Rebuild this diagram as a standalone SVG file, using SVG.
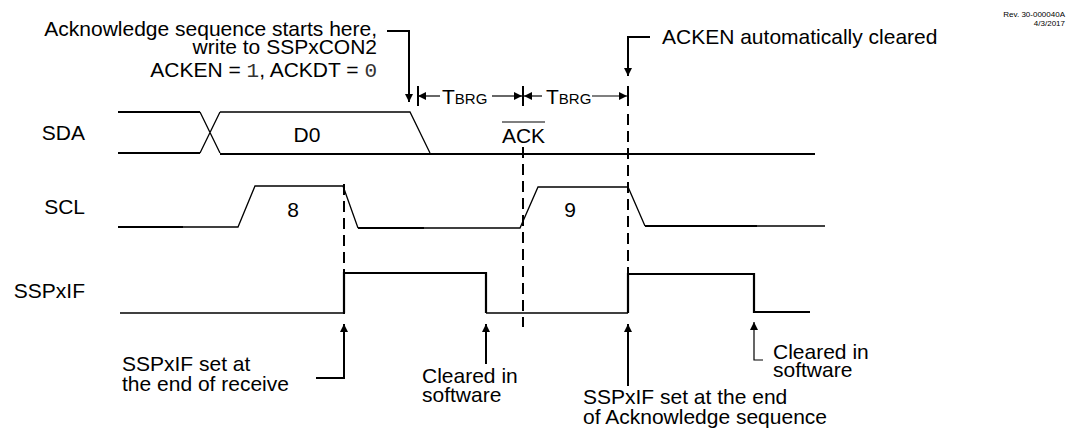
<svg xmlns="http://www.w3.org/2000/svg" width="1084" height="431" viewBox="0 0 1084 431">
<style>
text{font-family:"Liberation Sans",Arial,sans-serif;font-size:21px;fill:#000}
.mono{font-family:"Liberation Mono","Courier New",monospace;fill:#333}
.small{font-size:15px}
.rev{font-size:8px}
.w{fill:none;stroke:#000;stroke-width:1.3}
.t{fill:none;stroke:#000;stroke-width:2.2}
.d{fill:none;stroke:#000;stroke-width:2;stroke-dasharray:11 6}
.c{fill:none;stroke:#000;stroke-width:2}
.c1{fill:none;stroke:#000;stroke-width:1.2}
</style>
<defs>
<marker id="ah" viewBox="0 0 10 10" refX="10" refY="5" markerWidth="8" markerHeight="8" markerUnits="userSpaceOnUse" orient="auto"><path d="M0,0 L10,5 L0,10 z" fill="#000"/></marker>
</defs>
<rect width="1084" height="431" fill="#fff"/>
<g id="labels">
<text x="85" y="140" text-anchor="end">SDA</text>
<text x="85" y="214" text-anchor="end">SCL</text>
<text x="85" y="298" text-anchor="end">SSPxIF</text>
<text class="rev" x="1065" y="17" text-anchor="end">Rev. 30-000040A</text>
<text class="rev" x="1065" y="26" text-anchor="end">4/3/2017</text>
</g>
<g id="sda">
<path class="t" d="M118,112 H200"/>
<path class="t" d="M118,153 H200"/>
<path class="w" d="M200,112 L220,153 M200,153 L220,112"/>
<path class="w" d="M220,112 H410 L430,153"/>
<path class="t" d="M220,154 H815"/>
<text x="307" y="142" text-anchor="middle">D0</text>
<text x="523.5" y="143" text-anchor="middle">ACK</text>
<path class="c1" d="M502,122 H545"/>
</g>
<g id="scl">
<path class="t" d="M118,227 H183"/>
<path class="w" d="M183,227 H238 L255,186 H343 L358,228"/>
<path class="t" d="M358,228 H424"/>
<path class="w" d="M424,228 H520 L538,187 H628 L645,226"/>
<path class="t" d="M645,226 H757"/>
<path class="w" d="M757,226 H825"/>
<text x="293" y="217" text-anchor="middle">8</text>
<text x="570" y="217" text-anchor="middle">9</text>
</g>
<g id="sspxif">
<path class="w" d="M120,313 H344"/>
<path class="t" d="M344,313 V273 H486 V313"/>
<path class="w" d="M486,313 H628"/>
<path class="t" d="M628,313 V274 H754 V312 H810"/>
</g>
<g id="connectors">
<path class="d" d="M344,184 V318"/>
<path class="d" d="M523,147 V327"/>
<path class="c" d="M628,86 V106"/>
<path class="d" d="M628,114 V300"/>
<path class="c" d="M418,86 V106"/>
<path class="c" d="M523,86 V106"/>
<path class="c1" d="M440,96 H418" marker-end="url(#ah)"/>
<path class="c1" d="M492,96 H522" marker-end="url(#ah)"/>
<path class="c1" d="M542,96 H524" marker-end="url(#ah)"/>
<path class="c1" d="M592,96 H627" marker-end="url(#ah)"/>
<path class="c" d="M387,31 H409 V102" marker-end="url(#ah)"/>
<path class="c" d="M650,37 H628 V76" marker-end="url(#ah)"/>
<path class="c" d="M316,378 H344 V324" marker-end="url(#ah)"/>
<path class="c" d="M486,364 V324" marker-end="url(#ah)"/>
<path class="c" d="M628,386 V324" marker-end="url(#ah)"/>
<path class="c1" d="M763,360 H754 V322" marker-end="url(#ah)"/>
</g>
<g id="notes">
<text x="377" y="36" text-anchor="end">Acknowledge sequence starts here,</text>
<text x="377" y="54" text-anchor="end">write to SSPxCON2</text>
<text x="377" y="77" text-anchor="end">ACKEN = <tspan class="mono">1</tspan>, ACKDT = <tspan class="mono">0</tspan></text>
<text x="442" y="104">T<tspan class="small">BRG</tspan></text>
<text x="546" y="104">T<tspan class="small">BRG</tspan></text>
<text x="662" y="44">ACKEN automatically cleared</text>
<text x="122" y="371">SSPxIF set at</text>
<text x="122" y="391">the end of receive</text>
<text x="422" y="383">Cleared in</text>
<text x="422" y="402">software</text>
<text x="583" y="404">SSPxIF set at the end</text>
<text x="583" y="424">of Acknowledge sequence</text>
<text x="773" y="359">Cleared in</text>
<text x="773" y="377">software</text>
</g>
</svg>
